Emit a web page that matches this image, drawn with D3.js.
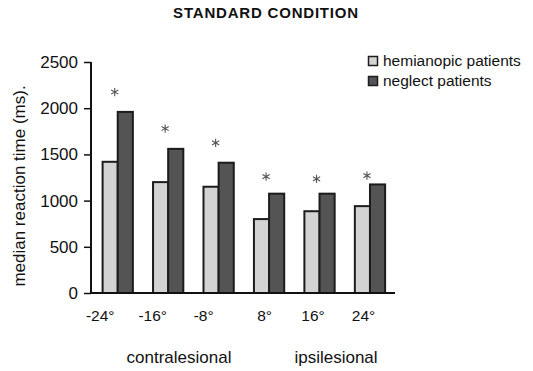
<!DOCTYPE html>
<html>
<head>
<meta charset="utf-8">
<script src="https://cdn.jsdelivr.net/npm/d3@7"></script>
<style>
  html, body { margin: 0; padding: 0; background: #fff; }
  svg { display: block; font-family: "Liberation Sans", Arial, sans-serif; }
</style>
</head>
<body>
<svg id="chart" width="533" height="371"></svg>
<script>
// Target eccentricities
const eccentricities = ["-24°", "-16°", "-8°", "8°", "16°", "24°"];
// Median reaction times (ms) per group
const hemianopic = [1420, 1200, 1150, 800, 885, 940];
const neglect = [1960, 1560, 1410, 1075, 1075, 1175];
// Height (ms) at which the significance star sits above each pair
const starLevel = [2175, 1780, 1625, 1260, 1235, 1270];
const seriesNames = ["hemianopic patients", "neglect patients"];
const yTicks = [0, 500, 1000, 1500, 2000, 2500];

const fills = ["#d3d3d3", "#545454"];
const svg = d3.select("#chart");

const x0 = d3.scaleBand().domain(eccentricities).range([92.5, 395.2])
  .paddingInner(0.4).paddingOuter(0.2);
const x1 = d3.scaleBand().domain([0, 1]).range([0, x0.bandwidth()]).padding(0);
const y = d3.scaleLinear().domain([0, 2500]).range([293, 62]);

// Title
svg.append("text")
  .attr("x", 266).attr("y", 18)
  .attr("text-anchor", "middle")
  .attr("font-size", 15).attr("font-weight", "bold")
  .attr("letter-spacing", 0.8)
  .attr("fill", "#111")
  .text("STANDARD CONDITION");

// Bars
const rows = eccentricities.map((e, i) => ({ e, vals: [hemianopic[i], neglect[i]], star: starLevel[i] }));
const groups = svg.append("g").selectAll("g").data(rows).join("g")
  .attr("transform", d => `translate(${x0(d.e)},0)`);
groups.selectAll("rect").data(d => d.vals.map((v, k) => ({ v, k }))).join("rect")
  .attr("x", d => x1(d.k))
  .attr("y", d => y(d.v))
  .attr("width", x1.bandwidth())
  .attr("height", d => y(0) - y(d.v))
  .attr("fill", d => fills[d.k])
  .attr("stroke", "#1c1c1c")
  .attr("stroke-width", 2);

// Significance stars
groups.append("path")
  .attr("transform", d => `translate(${x0.bandwidth() / 2 - 3},${y(d.star)})`)
  .attr("d", d3.symbol(d3.symbolAsterisk, 48))
  .attr("fill", "none")
  .attr("stroke", "#555")
  .attr("stroke-width", 1.1);

// Y axis
const yAxis = svg.append("g").attr("transform", "translate(91,0)")
  .call(d3.axisLeft(y).tickValues(yTicks).tickSize(7).tickPadding(6).tickFormat(d3.format("d")));
yAxis.select(".domain").attr("stroke", "#111").attr("stroke-width", 2)
  .attr("d", `M0,${y(2500)}V${y(0)}`);
yAxis.selectAll(".tick line").attr("stroke", "#111").attr("stroke-width", 1.5);
yAxis.selectAll(".tick text").attr("font-size", 17).attr("fill", "#111")
  .attr("font-family", "Liberation Sans, Arial, sans-serif");

// X axis baseline
const labelNudge = [-17.5, -15.5, -15, -4.5, -6.5, -6.5];
const xAxis = svg.append("g").attr("transform", `translate(0,${y(0)})`)
  .call(d3.axisBottom(x0).tickSize(0).tickPadding(17));
xAxis.select(".domain").attr("stroke", "#111").attr("stroke-width", 2)
  .attr("d", "M90,0H395");
xAxis.selectAll(".tick text").attr("font-size", 15.5).attr("fill", "#111")
  .attr("font-family", "Liberation Sans, Arial, sans-serif")
  .attr("dx", (d, i) => labelNudge[i]);

// Side labels
svg.append("text").attr("x", 179).attr("y", 363).attr("text-anchor", "middle")
  .attr("font-size", 17).attr("fill", "#111").text("contralesional");
svg.append("text").attr("x", 336).attr("y", 363).attr("text-anchor", "middle")
  .attr("font-size", 17).attr("fill", "#111").text("ipsilesional");

// Y axis title
svg.append("text")
  .attr("transform", "translate(25,186) rotate(-90)")
  .attr("text-anchor", "middle")
  .attr("font-size", 17).attr("fill", "#111")
  .text("median reaction time (ms).");

// Legend
const legend = svg.append("g").attr("transform", "translate(368,56)");
const items = legend.selectAll("g").data(seriesNames).join("g")
  .attr("transform", (d, i) => `translate(0,${i * 20})`);
items.append("rect").attr("x", 0.5).attr("y", 0.5).attr("width", 9).attr("height", 9)
  .attr("fill", (d, i) => fills[i]).attr("stroke", "#1c1c1c").attr("stroke-width", 1.5);
items.append("text").attr("x", 15).attr("y", 9.5)
  .attr("font-size", 15.5).attr("fill", "#111").text(d => d);
</script>
</body>
</html>
